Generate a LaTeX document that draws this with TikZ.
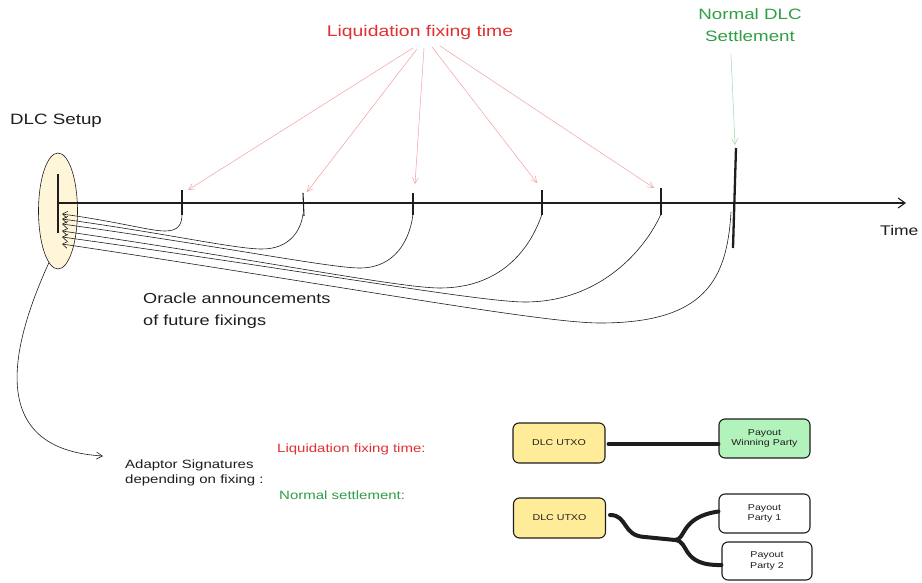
\documentclass[tikz,border=0pt]{standalone}
\usepackage{fontspec}
\setmainfont{Liberation Sans}
\newfontfamily\hand[FakeStretch=1.25]{Liberation Sans}
\usetikzlibrary{shapes.geometric,arrows.meta,calc}
\definecolor{ink}{HTML}{1E1E1E}
\definecolor{lred}{HTML}{E03131}
\definecolor{lgreen}{HTML}{2F9E44}
\definecolor{pred}{HTML}{F4A0A0}
\definecolor{pgreen}{HTML}{9ED8AB}
\definecolor{boxyellow}{HTML}{FFEC99}
\definecolor{boxgreen}{HTML}{B2F2BB}
\definecolor{setupfill}{HTML}{FFF5D8}
\tikzset{
  txt/.style={inner sep=0pt, text=ink},
  box/.style={draw=ink, line width=1.1pt, rounded corners=6pt, minimum width=92pt, minimum height=40pt, inner sep=1pt,
    font=\hand\fontsize{8.5}{10.5}\selectfont, align=center, text=ink},
  tickmark/.style={draw=ink, line width=1.1pt},
  oracle/.style={draw=ink, line width=0.6pt, {Straight Barb[length=5pt,width=7pt]}-},
  redarrow/.style={draw=pred, line width=0.5pt, -{Straight Barb[length=6pt,width=6pt]}},
  greenarrow/.style={draw=pgreen, line width=0.5pt, -{Straight Barb[length=6pt,width=6pt]}},
  thickline/.style={draw=ink, line width=4pt, line cap=round, line join=round},
}
\begin{document}
\begin{tikzpicture}[x=1pt,y=-1pt]
\fill[white] (0,0) rectangle (922,583);
\useasboundingbox (0,0) rectangle (922,583);

% titles
\node[txt, anchor=base west, font=\hand\fontsize{15}{18}\selectfont] (setuplbl) at (10,125) {DLC Setup};
\node[txt, anchor=base, text=lred, font=\hand\fontsize{15.5}{18}\selectfont] (liq) at (420,37) {Liquidation fixing time};
\node[txt, anchor=base, text=lgreen, font=\hand\fontsize{15}{22}\selectfont, align=center] (norm) at (750,42) {Normal DLC\\Settlement};
\node[txt, anchor=base west, font=\hand\fontsize{14}{18}\selectfont] (time) at (880,236) {Time};
\node[txt, anchor=base west, font=\hand\fontsize{14.5}{22}\selectfont, align=left] (orc) at (143,325) {Oracle announcements\\of future fixings};

% setup ellipse
\node[ellipse, draw=ink, fill=setupfill, line width=0.6pt, minimum width=39pt, minimum height=116pt, inner sep=0pt] (setup) at (58,211) {};

% axis
\coordinate (a0) at (58,203);
\coordinate (a1) at (906,203);
\coordinate (v0) at (58,174);
\coordinate (v1) at (58,233);
\draw[ink, line width=1.1pt] (v0) -- (v1);
\draw[ink, line width=1.1pt, -{Straight Barb[length=7pt,width=10pt]}] (a0) -- (a1);

% ticks
\coordinate (t1t) at (182,190); \coordinate (t1b) at (182,215);
\coordinate (t2t) at (303,193); \coordinate (t2b) at (304,216);
\coordinate (t3t) at (413,193); \coordinate (t3b) at (413,215);
\coordinate (t4t) at (542,190); \coordinate (t4b) at (542,215);
\coordinate (t5t) at (661,188); \coordinate (t5b) at (661,215);
\coordinate (tst) at (736,148); \coordinate (tsb) at (733,248);
\foreach \i in {1,...,5} {\draw[tickmark] (t\i t) -- (t\i b);}
\draw[ink, line width=2.3pt] (tst) -- (tsb);

% oracle announcement lines
\coordinate (o1) at (62,214); \coordinate (o2) at (62,219); \coordinate (o3) at (62,224);
\coordinate (o4) at (62,231); \coordinate (o5) at (62,237); \coordinate (o6) at (62,244);
\draw[oracle] (o1) .. controls (120,222) and (150,231) .. (165,231) .. controls (178,231) and (182,225) .. (182,214);
\draw[oracle] (o2) .. controls (170,234) and (235,249) .. (262,249) .. controls (290,249) and (301,230) .. (303,214);
\draw[oracle] (o3) .. controls (220,246) and (330,268) .. (360,268) .. controls (395,268) and (410,240) .. (413,214);
\draw[oracle] (o4) .. controls (260,260) and (400,288) .. (440,288) .. controls (500,288) and (530,250) .. (542,214);
\draw[oracle] (o5) .. controls (300,270) and (480,302) .. (525,302) .. controls (600,302) and (645,250) .. (661,214);
\draw[oracle] (o6) .. controls (330,284) and (540,323) .. (600,323) .. controls (705,323) and (727,280) .. (731,212);

% red arrows
\coordinate (r1) at (413,48); \coordinate (r2) at (417,49); \coordinate (r3) at (424,48);
\coordinate (r4) at (432,47); \coordinate (r5) at (440,46);
\coordinate (q1) at (188,190); \coordinate (q2) at (307,192); \coordinate (q3) at (415,184);
\coordinate (q4) at (537,183); \coordinate (q5) at (654,188);
\foreach \i in {1,...,5} {\draw[redarrow] (r\i) -- (q\i);}

% green arrow
\coordinate (g0) at (731,54); \coordinate (g1) at (735,145);
\draw[greenarrow] (g0) -- (g1);

% adaptor signatures
\node[txt, anchor=base west, font=\hand\fontsize{12}{15}\selectfont, align=left] (adap) at (125,483) {Adaptor Signatures\\depending on fixing :};
\node[txt, anchor=base west, text=lred, font=\hand\fontsize{12}{15}\selectfont] (liq2) at (277,452) {Liquidation fixing time:};
\node[txt, anchor=base west, text=lgreen, font=\hand\fontsize{12}{15}\selectfont] (norm2) at (279,499) {Normal settlement:};
\coordinate (adapin) at (103,456);
\draw[ink, line width=0.6pt, -{Straight Barb[length=6pt,width=7pt]}] (setup.-100) .. controls (0,370) and (0,450) .. (adapin);

% boxes
\node[box, fill=boxyellow] (u1) at (559,443) {DLC UTXO};
\node[box, fill=boxgreen, minimum width=91pt, minimum height=39pt] (w) at (764.5,438.5) {Payout\\Winning Party};
\node[box, fill=boxyellow] (u2) at (559.5,518) {DLC UTXO};
\node[box, fill=white, minimum width=91pt, minimum height=39pt] (p1) at (764.5,513.5) {Payout\\Party 1};
\node[box, fill=white, minimum width=90pt, minimum height=38pt] (p2) at (767,561) {Payout\\Party 2};

\draw[thickline] ([xshift=3pt,yshift=-1pt]u1.east) -- ([yshift=-1pt]u1.east -| w.west);
\coordinate (j) at (675,540);
\coordinate (jb) at (645,537);
\draw[thickline] ([xshift=4pt,yshift=3pt]u2.east) .. controls (628,515) and (622,536) .. (jb) -- (j);
\draw[thickline] (j) .. controls (686,540) and (680,517) .. ([yshift=2pt]p1.west);
\draw[thickline] (j) .. controls (690,541) and (680,566) .. ([yshift=-4pt]p2.west);
\end{tikzpicture}
\end{document}
